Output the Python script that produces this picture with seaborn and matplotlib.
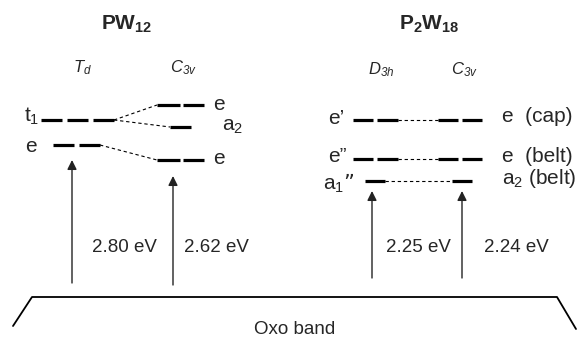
import pandas as pd
import seaborn as sns
from matplotlib import pyplot as plt

#%% level data (diagram units, y grows downwards = lower energy)

# PW12
td_t1_y = 120
td_t1_x = [(41, 62), (67, 88), (93, 114)]
td_e_y = 145
td_e_x = [(53, 74), (79, 100)]
c3v_e_top_y = 105
c3v_a2_y = 127
c3v_e_low_y = 160
c3v_e_x = [(157, 180), (183, 204)]
c3v_a2_x = [(170, 191)]

# P2W18
d3h_y = [120, 159]
d3h_e_x = [(353, 373), (377, 398)]
c3v2_e_x = [(438, 458), (462, 482)]
a1_y = 181
d3h_a1_x = [(365, 385)]
c3v2_a2_x = [(452, 472)]

# transitions
arrow_x = [72, 173, 372, 462]
arrow_from = [283, 285, 278, 278]
arrow_to = [160, 176, 191, 191]
energies = ['2.80 eV', '2.62 eV', '2.25 eV', '2.24 eV']
energy_x = [124, 216, 418, 516]

band_x = [13, 32, 557, 576]
band_y = [326, 297, 297, 329]

#%% collect level segments in one table
rows = []
def add(segs, y, name):
    for i, (x0, x1) in enumerate(segs):
        rows.append({'seg': f'{name}{i}', 'x': x0, 'y': y})
        rows.append({'seg': f'{name}{i}', 'x': x1, 'y': y})

add(td_t1_x, td_t1_y, 't1')
add(td_e_x, td_e_y, 'tde')
add(c3v_e_x, c3v_e_top_y, 'ce1')
add(c3v_a2_x, c3v_a2_y, 'ca2')
add(c3v_e_x, c3v_e_low_y, 'ce2')
for k, y in enumerate(d3h_y):
    add(d3h_e_x, y, f'd{k}')
    add(c3v2_e_x, y, f'c{k}')
add(d3h_a1_x, a1_y, 'da1')
add(c3v2_a2_x, a1_y, 'ca1')
levels = pd.DataFrame(rows)

#%% plot
sns.set_theme(style='white')
plt.rcParams['font.family'] = ['Liberation Sans', 'DejaVu Sans']
plt.rcParams['mathtext.default'] = 'regular'

fig = plt.figure(figsize=(5.79, 3.39), dpi=100)
ax = fig.add_axes([0, 0, 1, 1])
ax.set_xlim(0, 579)
ax.set_ylim(339, 0)
ax.axis('off')

sns.lineplot(data=levels, x='x', y='y', units='seg', estimator=None,
             color='black', linewidth=2.3, legend=False, ax=ax,
             solid_capstyle='butt')

# correlation lines
conn = [((114, td_t1_y), (157, c3v_e_top_y)),
        ((114, td_t1_y), (170, c3v_a2_y)),
        ((100, td_e_y), (157, c3v_e_low_y)),
        ((398, d3h_y[0]), (438, d3h_y[0])),
        ((398, d3h_y[1]), (438, d3h_y[1])),
        ((385, a1_y), (452, a1_y))]
for (x0, y0), (x1, y1) in conn:
    ax.plot([x0, x1], [y0, y1], color='black', lw=0.8, ls=(0, (3, 2.5)))

# arrows
for x, y0, y1 in zip(arrow_x, arrow_from, arrow_to):
    ax.annotate('', xy=(x, y1), xytext=(x, y0),
                arrowprops=dict(arrowstyle='-|>', color='#222222', lw=1.0,
                                mutation_scale=14, shrinkA=0, shrinkB=0))
for lab, x in zip(energies, energy_x):
    ax.text(x, 247, lab, ha='center', va='center', fontsize=13.5)

# oxo band
ax.plot(band_x, band_y, color='black', lw=1.3)
ax.text(295, 329, 'Oxo band', ha='center', va='center', fontsize=13.5)

# titles
ax.text(127, 24, 'PW$_{12}$', ha='center', va='center', fontsize=15, fontweight='bold')
ax.text(429, 24, 'P$_2$W$_{18}$', ha='center', va='center', fontsize=15, fontweight='bold')
for lab, x, y in [('T$_d$', 83, 68), ('C$_{3v}$', 184, 68),
                  ('D$_{3h}$', 381, 70), ('C$_{3v}$', 465, 70)]:
    ax.text(x, y, lab, ha='center', va='center', fontsize=12, fontstyle='italic')

# level labels
lev_labels = [('t$_1$', 24, 116), ('e', 25, 146),
              ('e', 213, 104), ('a$_2$', 222, 127), ('e', 213, 159),
              ('e’', 328, 118), ('e”', 328, 157), ('a$_1$”', 323, 183),
              ('e  (cap)', 502, 117), ('e  (belt)', 502, 156),
              ('a$_2$ (belt)', 502, 178)]
for lab, x, y in lev_labels:
    ax.text(x, y, lab, ha='left', va='center', fontsize=15)

fig.savefig('out.png', dpi=100)
